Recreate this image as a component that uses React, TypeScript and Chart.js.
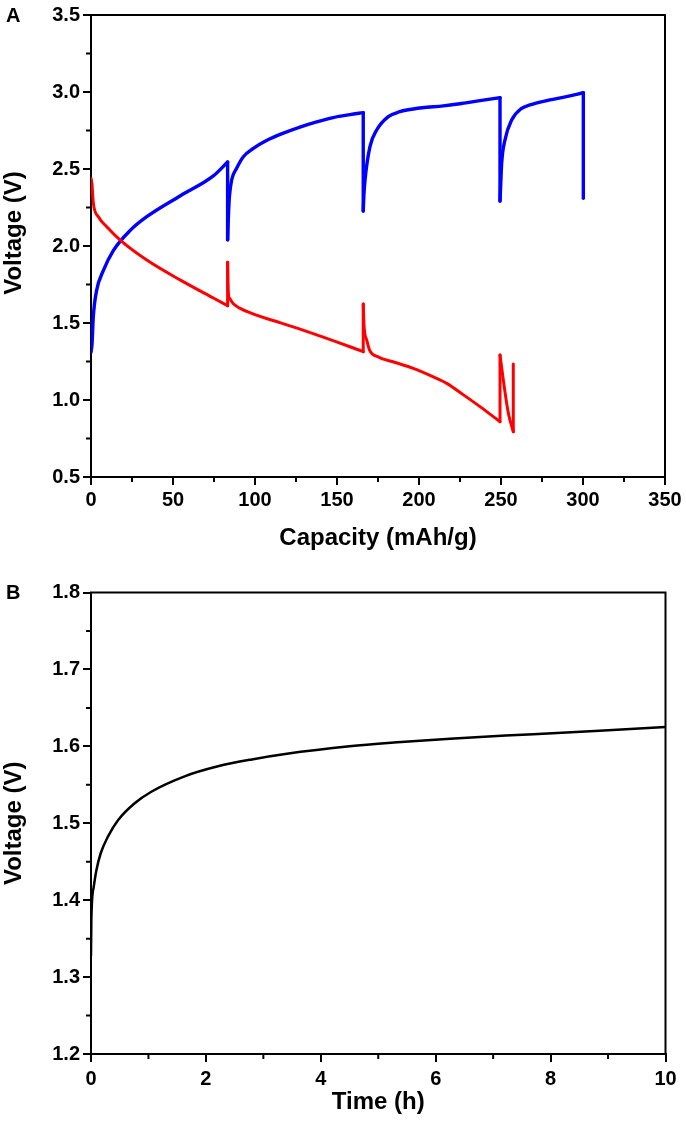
import React, { useEffect, useRef } from 'react';
import { Chart, registerables } from 'chart.js';

Chart.register(...registerables);

const FONT = "'Liberation Sans', Arial, Helvetica, sans-serif";

// ---------- Panel A: charge / discharge curves ----------
const chargeCapacity = [
  0, 0.6, 1.4, 3.4, 7.5, 13.6, 23.8, 34, 54.3, 74.6, 83.3,
  83.3, 83.7, 84.4, 85.8, 88.8, 92.9, 99, 107, 117.3, 127.4, 137.6, 147.7, 157.9, 166.0,
  166.0, 166.4, 167.1, 170.1, 174.2, 181.3, 188.4, 192.5, 202, 214.8, 226, 237.2, 249.4,
  249.4, 249.9, 250.4, 252.4, 256.5, 262.6, 267.7, 277.9, 290, 300.2, 300.2,
];
const chargeVoltage = [
  1.31, 1.36, 1.54, 1.71, 1.84, 1.97, 2.10, 2.19, 2.325, 2.455, 2.545,
  2.04, 2.17, 2.32, 2.43, 2.505, 2.58, 2.634, 2.685, 2.733, 2.772, 2.806, 2.834, 2.853, 2.866,
  2.227, 2.33, 2.43, 2.645, 2.753, 2.84, 2.872, 2.883, 2.898, 2.91, 2.925, 2.944, 2.963,
  2.292, 2.42, 2.537, 2.688, 2.818, 2.894, 2.916, 2.944, 2.97, 2.995, 2.31,
];
const dischargeCapacity = [
  0, 0.6, 1.4, 4.5, 9.6, 18.7, 34, 54.3, 74.6, 83.3,
  83.3, 83.7, 84.5, 86.8, 95, 115.2, 127.4, 157.9, 166.0,
  166.0, 166.5, 168.1, 170, 175, 185, 196.5, 208.7, 216.9, 226.9, 237.2, 249.4,
  249.4, 251.4, 254.5, 257.5, 257.5,
];
const dischargeVoltage = [
  2.44, 2.40, 2.28, 2.19, 2.125, 2.03, 1.909, 1.78, 1.662, 1.612,
  1.894, 1.70, 1.66, 1.625, 1.575, 1.502, 1.46, 1.346, 1.314,
  1.623, 1.48, 1.39, 1.32, 1.28, 1.245, 1.205, 1.15, 1.108, 1.035, 0.957, 0.859,
  1.292, 1.13, 0.914, 0.794, 1.234,
];
const capacityTicks = [0, 50, 100, 150, 200, 250, 300, 350];
const voltageTicksA = [0.5, 1.0, 1.5, 2.0, 2.5, 3.0, 3.5];

// ---------- Panel B: voltage vs time ----------
const timeHours = [0, 0.006, 0.047, 0.094, 0.169, 0.297, 0.47, 0.76, 1.05, 1.63, 2.21, 2.8, 3.38, 4.5, 5.4, 6.25, 7.7, 10];
const timeVoltage = [1.328, 1.374, 1.417, 1.439, 1.461, 1.483, 1.504, 1.526, 1.541, 1.561, 1.574, 1.583, 1.59, 1.6, 1.6055, 1.61, 1.6158, 1.625];
const timeTicks = [0, 2, 4, 6, 8, 10];
const voltageTicksB = [1.2, 1.3, 1.4, 1.5, 1.6, 1.7, 1.8];

function midpoints(ticks: number[]) {
  const out: number[] = [];
  for (let i = 0; i < ticks.length - 1; i++) out.push((ticks[i] + ticks[i + 1]) / 2);
  return out;
}

// split a series into continuous runs; a repeated x value marks a vertical jump
function splitRuns(xs: number[], ys: number[]) {
  const runs: { x: number; y: number }[][] = [];
  let cur: { x: number; y: number }[] = [];
  for (let i = 0; i < xs.length; i++) {
    const p = { x: xs[i], y: ys[i] };
    if (cur.length && xs[i] === cur[cur.length - 1].x) {
      runs.push(cur);
      runs.push([cur[cur.length - 1], p]);
      cur = [p];
    } else cur.push(p);
  }
  if (cur.length) runs.push(cur);
  return runs.filter((r) => r.length > 1);
}

const frameAndMinor = {
  id: 'frameAndMinor',
  afterDraw(chart: any, _args: any, opts: any) {
    const { ctx, chartArea, scales } = chart;
    const { left, right, top, bottom } = chartArea;
    ctx.save();
    ctx.strokeStyle = '#000';
    ctx.lineWidth = 2;
    ctx.lineCap = 'butt';
    ctx.beginPath();
    ctx.moveTo(left - 1, top);
    ctx.lineTo(right, top);
    ctx.lineTo(right, bottom + 1);
    ctx.stroke();
    ctx.beginPath();
    for (const v of opts.xMinor || []) {
      const px = scales.x.getPixelForValue(v);
      ctx.moveTo(px, bottom);
      ctx.lineTo(px, bottom + 5);
    }
    for (const v of opts.yMinor || []) {
      const py = scales.y.getPixelForValue(v);
      ctx.moveTo(left, py);
      ctx.lineTo(left - 5, py);
    }
    ctx.stroke();
    // vertical axis title
    if (opts.yTitle) {
      ctx.fillStyle = '#000';
      ctx.font = `bold 24px ${FONT}`;
      ctx.textAlign = 'center';
      ctx.textBaseline = 'middle';
      ctx.translate(opts.yTitleX, (top + bottom) / 2 + (opts.yTitleShift || 0));
      ctx.rotate(-Math.PI / 2);
      ctx.fillText(opts.yTitle, 0, 0);
    }
    ctx.restore();
  },
};

const tickFont = { family: FONT, size: 20, weight: 'bold' as const };
const titleFont = { family: FONT, size: 24, weight: 'bold' as const };

function makeAxis(opts: {
  ticks: number[];
  decimals: number;
  title?: string;
  fit: (s: any) => void;
  titlePad?: any;
  tickPad: number;
}) {
  const t = opts.ticks;
  return {
    type: 'linear' as const,
    min: t[0],
    max: t[t.length - 1],
    afterFit: opts.fit,
    afterBuildTicks: (s: any) => {
      s.ticks = t.map((v) => ({ value: v }));
    },
    ticks: {
      font: tickFont,
      color: '#000',
      padding: opts.tickPad,
      autoSkip: false,
      maxRotation: 0,
      callback: (v: any) => Number(v).toFixed(opts.decimals),
    },
    grid: {
      display: true,
      drawOnChartArea: false,
      drawTicks: true,
      tickLength: 8,
      lineWidth: 2,
      color: '#000',
    },
    border: { display: true, color: '#000', width: 2 },
    title: {
      display: !!opts.title,
      text: opts.title || '',
      color: '#000',
      font: titleFont,
      padding: opts.titlePad || 0,
    },
  };
}

function configA() {
  const blue = splitRuns(chargeCapacity, chargeVoltage).map((d) => ({
    data: d,
    borderColor: '#0000ff',
    borderWidth: 3.4,
  }));
  const red = splitRuns(dischargeCapacity, dischargeVoltage).map((d) => ({
    data: d,
    borderColor: '#ff0000',
    borderWidth: 3,
  }));
  return {
    type: 'line' as const,
    data: { datasets: [...red, ...blue] },
    options: {
      animation: false as const,
      responsive: true,
      maintainAspectRatio: false,
      layout: { padding: { top: 15, right: 21, left: 0, bottom: 0 } },
      elements: {
        point: { radius: 0 },
        line: { cubicInterpolationMode: 'monotone' as const, borderCapStyle: 'round' as const, borderJoinStyle: 'round' as const },
      },
      plugins: {
        legend: { display: false },
        tooltip: { enabled: false },
        frameAndMinor: {
          xMinor: midpoints(capacityTicks),
          yMinor: midpoints(voltageTicksA),
          yTitle: 'Voltage (V)',
          yTitleX: 14,
          yTitleShift: -13,
        },
      },
      scales: {
        x: makeAxis({
          ticks: capacityTicks,
          decimals: 0,
          title: 'Capacity (mAh/g)',
          fit: (s: any) => { s.height = 89; },
          titlePad: { top: 0, bottom: 13 },
          tickPad: 3,
        }),
        y: makeAxis({
          ticks: voltageTicksA,
          decimals: 1,
          fit: (s: any) => { s.width = 91; },
          tickPad: 3,
        }),
      },
    },
    plugins: [frameAndMinor],
  };
}

function configB() {
  const data = timeHours.map((t, i) => ({ x: t, y: timeVoltage[i] }));
  return {
    type: 'line' as const,
    data: {
      datasets: [{ data, borderColor: '#000', borderWidth: 2.5 }],
    },
    options: {
      animation: false as const,
      responsive: true,
      maintainAspectRatio: false,
      layout: { padding: { top: 26.5, right: 20.5, left: 0, bottom: 0 } },
      elements: {
        point: { radius: 0 },
        line: { cubicInterpolationMode: 'monotone' as const, borderCapStyle: 'round' as const, borderJoinStyle: 'round' as const },
      },
      plugins: {
        legend: { display: false },
        tooltip: { enabled: false },
        frameAndMinor: {
          xMinor: midpoints(timeTicks),
          yMinor: midpoints(voltageTicksB),
          yTitle: 'Voltage (V)',
          yTitleX: 14,
          yTitleShift: 0,
        },
      },
      scales: {
        x: makeAxis({
          ticks: timeTicks,
          decimals: 0,
          title: 'Time (h)',
          fit: (s: any) => { s.height = 79; },
          titlePad: { top: 0, bottom: 16 },
          tickPad: 5,
        }),
        y: makeAxis({
          ticks: voltageTicksB,
          decimals: 1,
          fit: (s: any) => { s.width = 91; },
          tickPad: 3,
        }),
      },
    },
    plugins: [frameAndMinor],
  };
}

function Panel({ makeConfig, height }: { makeConfig: () => any; height: number }) {
  const ref = useRef<HTMLCanvasElement | null>(null);
  useEffect(() => {
    if (!ref.current) return;
    const chart = new Chart(ref.current, makeConfig());
    return () => chart.destroy();
  }, [makeConfig]);
  return (
    <div style={{ position: 'relative', width: 686, height }}>
      <canvas ref={ref} />
    </div>
  );
}

const labelStyle: React.CSSProperties = {
  position: 'absolute',
  left: 6,
  fontFamily: FONT,
  fontWeight: 'bold',
  fontSize: 20,
  lineHeight: '20px',
  color: '#000',
};

export default function App() {
  return (
    <div style={{ position: 'absolute', left: 0, top: 0, width: 686, height: 1133, background: '#fff' }}>
      <Panel makeConfig={configA} height={566} />
      <Panel makeConfig={configB} height={567} />
      <span style={{ ...labelStyle, top: 5 }}>A</span>
      <span style={{ ...labelStyle, top: 582 }}>B</span>
    </div>
  );
}
